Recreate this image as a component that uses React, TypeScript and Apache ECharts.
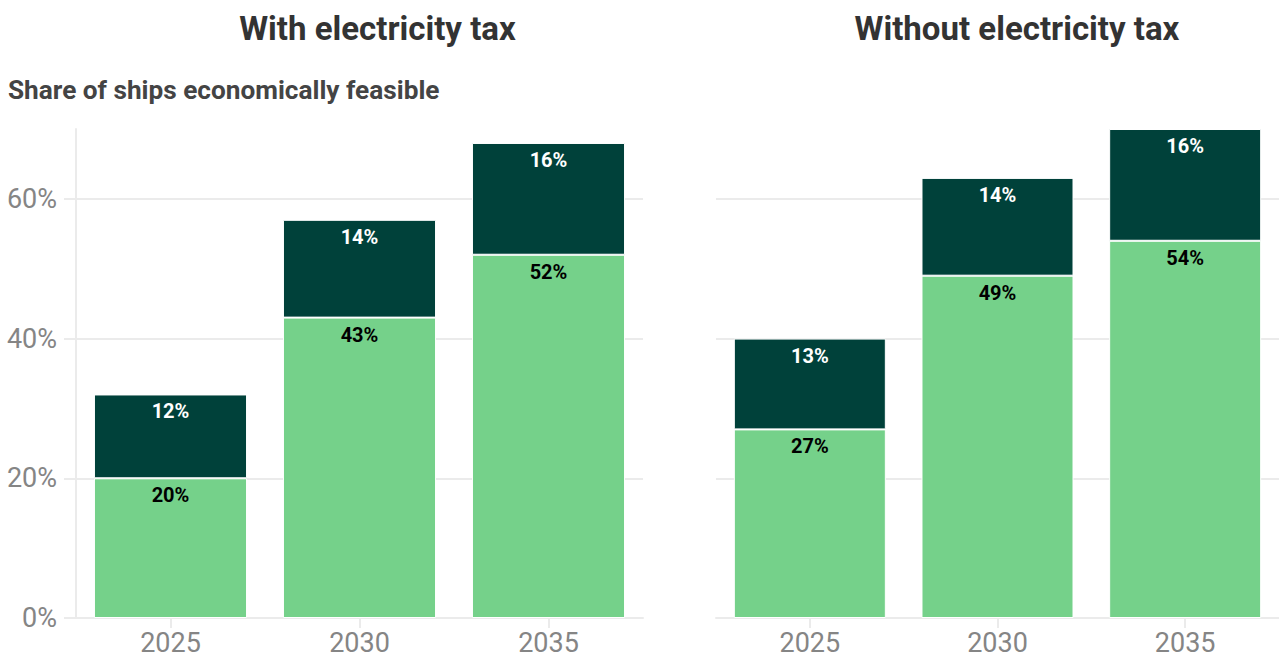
import React, { useEffect, useRef } from "react";
import * as echarts from "echarts";

const years = ["2025", "2030", "2035"];
const withTaxBase = [20, 43, 52];
const withTaxExtra = [12, 14, 16];
const withoutTaxBase = [27, 49, 54];
const withoutTaxExtra = [13, 14, 16];
const yTicks = [0, 20, 40, 60];

const panelTitles = ["With electricity tax", "Without electricity tax"];
const subtitle = "Share of ships economically feasible";

const FONT = "Roboto, 'Noto Sans', sans-serif";
const DARK = "#00413a";
const LIGHT = "#75d18a";
const GRID = "#ebebeb";
const AXIS_TEXT = "#858585";

export default function App() {
  const ref = useRef<HTMLDivElement>(null);
  useEffect(() => {
    document.body.style.margin = "0";
    const chart = echarts.init(ref.current!, null, { renderer: "svg" });

    const grids = [
      { left: 76, top: 129, width: 567, height: 489 },
      { left: 716, top: 129, width: 566, height: 489 },
    ];

    const xAxis = grids.map((_, i) => ({
      type: "category",
      gridIndex: i,
      data: years,
      axisLine: { show: true, lineStyle: { color: GRID, width: 2 } },
      axisTick: { show: true, alignWithLabel: true, length: 10, lineStyle: { color: GRID, width: 2 } },
      axisLabel: { color: AXIS_TEXT, fontSize: 27, fontFamily: FONT, margin: 11 },
    }));

    const yAxis = grids.map((_, i) => ({
      type: "value",
      gridIndex: i,
      min: 0,
      max: 70,
      interval: 20,
      axisLine: { show: i === 0, lineStyle: { color: GRID, width: 2 } },
      axisTick: { show: i === 0, length: 12, lineStyle: { color: GRID, width: 2 } },
      axisLabel: {
        show: i === 0,
        showMaxLabel: false,
        color: AXIS_TEXT,
        fontSize: 27,
        fontFamily: FONT,
        margin: 19,
        formatter: (v: number) => (yTicks.includes(v) ? v + "%" : ""),
      },
      splitLine: { show: true, showMaxLine: false, lineStyle: { color: GRID, width: 2 } },
    }));

    const mk = (data: number[], idx: number, stack: string, color: string, labelColor: string) => ({
      type: "bar",
      xAxisIndex: idx,
      yAxisIndex: idx,
      stack,
      data,
      barCategoryGap: "19%",
      itemStyle: { color, borderColor: "#fff", borderWidth: 1 },
      label: {
        show: true,
        position: "insideTop",
        distance: 7,
        formatter: (p: any) => p.value + "%",
        color: labelColor,
        fontSize: 20,
        fontWeight: "bold",
        fontFamily: FONT,
      },
    });

    chart.setOption({
      animation: false,
      grid: grids,
      xAxis,
      yAxis,
      series: [
        mk(withTaxBase, 0, "a", LIGHT, "#000"),
        mk(withTaxExtra, 0, "a", DARK, "#fff"),
        mk(withoutTaxBase, 1, "b", LIGHT, "#000"),
        mk(withoutTaxExtra, 1, "b", DARK, "#fff"),
      ],
      graphic: [
        {
          type: "text",
          x: 377.5,
          y: 28,
          style: {
            text: panelTitles[0],
            fontSize: 33,
            fontWeight: "bold",
            fontFamily: FONT,
            fill: "#333",
            align: "center",
            verticalAlign: "middle",
          },
        },
        {
          type: "text",
          x: 1017,
          y: 28,
          style: {
            text: panelTitles[1],
            fontSize: 33,
            fontWeight: "bold",
            fontFamily: FONT,
            fill: "#333",
            align: "center",
            verticalAlign: "middle",
          },
        },
        {
          type: "text",
          x: 8,
          y: 90,
          style: {
            text: subtitle,
            fontSize: 26.2,
            fontWeight: "bold",
            fontFamily: FONT,
            fill: "#444",
            align: "left",
            verticalAlign: "middle",
          },
        },
      ],
    });
    return () => chart.dispose();
  }, []);
  return <div ref={ref} style={{ position: "absolute", left: 0, top: 0, width: 1279, height: 659 }} />;
}
